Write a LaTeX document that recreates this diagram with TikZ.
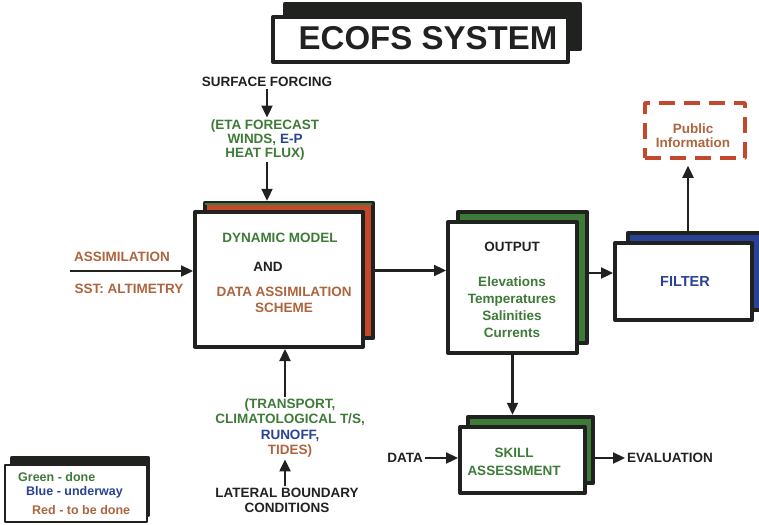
\documentclass[tikz,border=0pt]{standalone}
\usepackage{fontspec}
\setmainfont{Liberation Sans}
\usetikzlibrary{arrows.meta}
\definecolor{ink}{RGB}{32,34,32}
\definecolor{grn}{RGB}{62,122,56}
\definecolor{blu}{RGB}{42,66,150}
\definecolor{brn}{RGB}{174,100,62}
\definecolor{rd}{RGB}{196,72,46}
\begin{document}
\begin{tikzpicture}[x=1pt,y=-1pt,>={Triangle[length=12pt,width=11pt]},
	font=\bfseries\fontsize{13.5}{14}\selectfont, line join=round,
	box/.style={draw=ink,line width=4pt,fill=white,inner sep=0pt},
	back/.style={draw=ink,line width=4.5pt,inner sep=0pt},
	arr/.style={->,draw=ink,line width=2.3pt},
	txt/.style={inner sep=2pt,align=center,text=ink}]
	\useasboundingbox (0,0) rectangle (759,524);
	% back boxes
	\node[back,fill=ink,minimum width=295pt,minimum height=45pt] (titleback) at (432.5,26.5) {};
	\node[back,fill=rd,minimum width=168pt,minimum height=135pt] (dynback) at (289,270.5) {};
	\draw[grn,line width=2pt] ([shift={(2,3.5)}]dynback.north west) -- ([shift={(-3.5,3.5)}]dynback.north east);
	\node[back,fill=grn,minimum width=129pt,minimum height=131pt] (outback) at (522.5,277.5) {};
	\node[back,fill=blu,minimum width=137pt,minimum height=77pt] (filtback) at (696.5,271.5) {};
	\node[back,fill=grn,minimum width=125pt,minimum height=66pt] (skillback) at (530.5,450) {};
	\node[back,fill=ink,minimum width=136pt,minimum height=57pt] (legback) at (80,486.5) {};
	% front boxes
	\node[box,minimum width=295pt,minimum height=45pt] (title) at (420.5,39.5) {};
	\node[box,minimum width=168pt,minimum height=135pt] (dyn) at (279,279.5) {};
	\node[box,minimum width=129pt,minimum height=131pt] (out) at (512.5,287.5) {};
	\node[box,minimum width=137pt,minimum height=77pt] (filt) at (683.5,281.5) {};
	\node[box,minimum width=125pt,minimum height=66pt] (skill) at (522.5,460) {};
	\node[box,line width=1.5pt,minimum width=142pt,minimum height=57pt] (leg) at (76,493.5) {};
	\node[draw=rd,line width=3.5pt,dash pattern=on 16pt off 9pt,minimum width=100pt,minimum height=55pt] (pub) at (695,130.5) {};
	% texts
	\node[txt,inner sep=0pt,font=\bfseries\fontsize{33}{33}\selectfont] (titletxt) at (428,38) {ECOFS SYSTEM};
	\node[txt] (forcing) at (267,82) {SURFACE FORCING};
	\node[txt,text=grn] (eta) at (265,140) {(ETA FORECAST\\WINDS, \textcolor{blu}{E-P}\\HEAT FLUX)};
	\node[txt,text=grn] (dynA) at (280,238) {DYNAMIC MODEL};
	\node[txt] (dynB) at (268,267) {AND};
	\node[txt,text=brn,font=\bfseries\fontsize{13.5}{16}\selectfont] (dynC) at (284,300) {DATA ASSIMILATION\\SCHEME};
	\node[txt,text=brn] (assim) at (122,257) {ASSIMILATION};
	\node[txt,text=brn] (sst) at (129,289) {SST: ALTIMETRY};
	\node[txt] (outA) at (512,247) {OUTPUT};
	\node[txt,text=grn,font=\bfseries\fontsize{13.5}{17}\selectfont] (outB) at (512,307) {Elevations\\Temperatures\\Salinities\\Currents};
	\node[txt,text=blu,font=\bfseries\fontsize{14.5}{16}\selectfont] (filttxt) at (685,282) {FILTER};
	\node[txt,text=brn] (pubtxt) at (693,136) {Public\\Information};
	\node[txt,text=grn,font=\bfseries\fontsize{13.5}{18}\selectfont] (skilltxt) at (514,462) {SKILL\\ASSESSMENT};
	\node[txt] (data) at (405,458) {DATA};
	\node[txt,anchor=west] (eval) at (625,458) {EVALUATION};
	\node[txt,text=grn,font=\bfseries\fontsize{13.5}{15.3}\selectfont] (trans) at (290,428) {(TRANSPORT,\\CLIMATOLOGICAL T/S,\\\textcolor{blu}{RUNOFF,}\\\textcolor{brn}{TIDES)}};
	\node[txt,font=\bfseries\fontsize{13.5}{15}\selectfont] (lbc) at (287,500) {LATERAL BOUNDARY\\CONDITIONS};
	\node[txt,anchor=west,text=grn,font=\bfseries\fontsize{12.5}{14}\selectfont] (legA) at (16,477) {Green - done};
	\node[txt,anchor=west,text=blu,font=\bfseries\fontsize{12.5}{14}\selectfont] (legB) at (24,492) {Blue - underway};
	\node[txt,anchor=west,text=brn,font=\bfseries\fontsize{12.5}{14}\selectfont] (legC) at (30,510) {Red - to be done};
	% connectors
	\coordinate (assimin) at (70,271);
	\draw[arr] (forcing.south) -- (forcing.south |- eta.north);
	\draw[arr] (forcing.south |- eta.south) -- (forcing.south |- dynback.north);
	\draw[arr] (assimin) -- (assimin -| dyn.west);
	\draw[arr] (dynback.east) -- (dynback.east -| out.west);
	\draw[arr] (outback.east |- 0,273) -- (filt.west |- 0,273);
	\draw[arr,shorten >=6pt] (filtback.north -| 688,0) -- (pub.south -| 688,0);
	\draw[arr] (out.south) -- (out.south |- skillback.north);
	\draw[arr] (data.east) -- (data.east -| skill.west);
	\draw[arr] (skillback.east |- data.east) -- (eval.west);
	\draw[arr] (lbc.north -| 285,0) -- (trans.south -| 285,0);
	\draw[arr] (trans.north -| 285,0) -- (dyn.south -| 285,0);
\end{tikzpicture}
\end{document}
